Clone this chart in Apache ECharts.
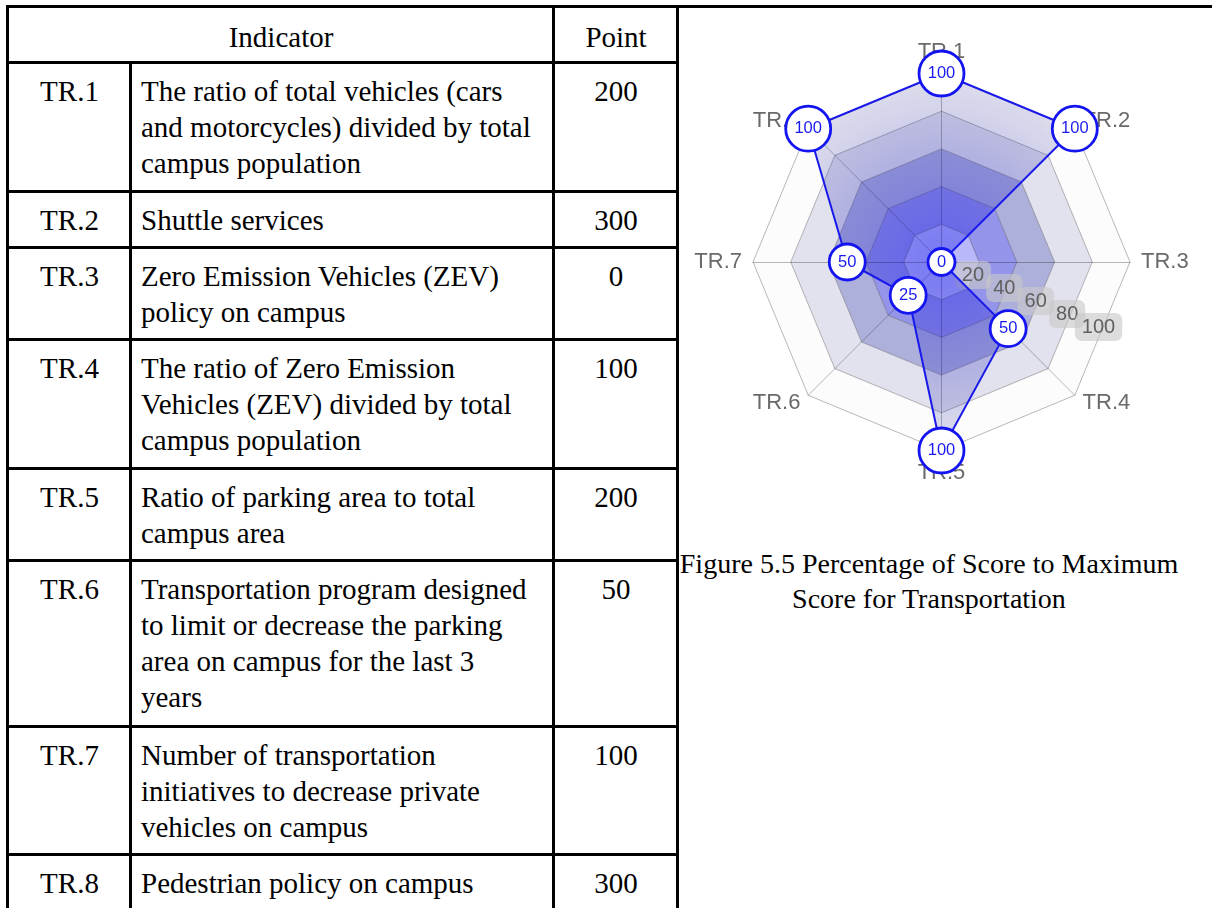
<!DOCTYPE html>
<html>
<head>
<meta charset="utf-8">
<script src="https://cdn.jsdelivr.net/npm/echarts@6/dist/echarts.min.js"></script>
<style>
html, body { margin: 0; padding: 0; background: #fff; width: 1212px; height: 908px; overflow: hidden; }
#tbl { position: absolute; left: 6px; top: 5px; border-collapse: collapse; table-layout: fixed; width: 670px;
  font-family: 'Liberation Serif', 'Times New Roman', serif; font-size: 29px; color: #000; }
#tbl td { border: 3px solid #000; vertical-align: top; padding: 9px 8px 0 9px; line-height: 36px; white-space: nowrap; overflow: hidden; }
#tbl td.c { text-align: center; }
#tbl tr.h td { vertical-align: middle; padding-top: 4px; }
#topline { position: absolute; left: 676px; top: 5px; width: 536px; height: 0; border-top: 3px solid #000; }
#chart { position: absolute; left: 676px; top: 0; width: 536px; height: 530px; }
#caption { position: absolute; left: 676px; top: 546px; width: 506px; text-align: center;
  font-family: 'Liberation Serif', 'Times New Roman', serif; font-size: 28px; line-height: 35px; color: #000; }
</style>
</head>
<body>
<table id="tbl"><colgroup><col style="width:123px"><col style="width:423px"><col style="width:124px"></colgroup><tbody id="tb"></tbody></table>
<div id="topline"></div>
<div id="chart"></div>
<div id="caption">Figure 5.5 Percentage of Score to Maximum<br>Score for Transportation</div>
<script>
// ---- data ----
const indicators = ['TR.1', 'TR.2', 'TR.3', 'TR.4', 'TR.5', 'TR.6', 'TR.7', 'TR.8'];
const descriptions = [
  ['The ratio of total vehicles (cars', 'and motorcycles) divided by total', 'campus population'],
  ['Shuttle services'],
  ['Zero Emission Vehicles (ZEV)', 'policy on campus'],
  ['The ratio of Zero Emission', 'Vehicles (ZEV) divided by total', 'campus population'],
  ['Ratio of parking area to total', 'campus area'],
  ['Transportation program designed', 'to limit or decrease the parking', 'area on campus for the last 3', 'years'],
  ['Number of transportation', 'initiatives to decrease private', 'vehicles on campus'],
  ['Pedestrian policy on campus']
];
const points = [200, 300, 0, 100, 200, 50, 100, 300];
const scores = [100, 100, 0, 50, 100, 25, 50, 100];   // percentage of score to maximum
const ringTicks = [0, 20, 40, 60, 80, 100];
const headers = ['Indicator', 'Point'];
const rowHeights = [56, 129, 56, 92, 129, 92, 166, 128, 70];

// ---- table ----
const tb = document.getElementById('tb');
let html = '<tr class="h" style="height:' + rowHeights[0] + 'px"><td class="c" colspan="2">' + headers[0] +
  '</td><td class="c">' + headers[1] + '</td></tr>';
indicators.forEach(function (ind, i) {
  html += '<tr style="height:' + rowHeights[i + 1] + 'px"><td class="c">' + ind + '</td><td>' +
    descriptions[i].join('<br>') + '</td><td class="c">' + points[i] + '</td></tr>';
});
tb.innerHTML = html;

// ---- radar chart ----
const chart = echarts.init(document.getElementById('chart'), null, { renderer: 'canvas' });
// ECharts radar places indicators counter-clockwise; reorder so they run clockwise
const order = [0].concat(indicators.map(function (_, i) { return i; }).slice(1).reverse());
const C = [265.5, 262];
const R = 188.5;
const font = 'Liberation Sans, Arial, sans-serif';
const tMin = ringTicks[0], tMax = ringTicks[ringTicks.length - 1];

chart.setOption({
  animation: false,
  radar: {
    center: C, radius: R, startAngle: 90, splitNumber: ringTicks.length - 1, shape: 'polygon',
    indicator: order.map(function (i) { return { name: indicators[i], min: tMin, max: tMax }; }),
    axisName: { color: '#6a6a6a', fontSize: 22, fontFamily: font },
    nameGap: 11,
    splitLine: { lineStyle: { color: 'rgba(0,0,0,0.28)', width: 1 } },
    axisLine: { lineStyle: { color: 'rgba(0,0,0,0.28)', width: 1 } },
    splitArea: { show: true, areaStyle: { color: ['#b8b8fa', '#9494ea', '#aeb0dc', '#e2e2ee', '#fcfcfc'] } }
  },
  polar: [
    { center: C, radius: 170 },
    { center: C, radius: R }
  ],
  angleAxis: [
    // one band spanning the circle: its centre sits at -22.5deg (between TR.3 and TR.4)
    { polarIndex: 0, type: 'category', data: ['scale'], startAngle: 157.5, clockwise: true, boundaryGap: true, show: false },
    { polarIndex: 1, type: 'category', data: indicators, startAngle: 112.5, clockwise: true, boundaryGap: true, show: false }
  ],
  radiusAxis: [
    { polarIndex: 0, type: 'value', min: tMin, max: tMax, show: false },
    { polarIndex: 1, type: 'value', min: tMin, max: tMax, show: false }
  ],
  series: [
    {
      // scale (tick) labels of the radar
      type: 'scatter', coordinateSystem: 'polar', polarIndex: 0, z: 2, silent: true,
      data: ringTicks.slice(1).map(function (t) { return [t, 'scale']; }),
      symbol: 'circle', symbolSize: 1, itemStyle: { color: 'rgba(0,0,0,0)' },
      label: {
        show: true, position: 'inside', opacity: 1, color: '#606060', fontSize: 20, fontFamily: font,
        backgroundColor: 'rgba(200,200,200,0.62)', borderRadius: 7, padding: [4, 7],
        formatter: function (p) { return String(p.value[0]); }
      }
    },
    {
      type: 'radar', z: 3, symbol: 'none',
      lineStyle: { color: '#1818f0', width: 2 },
      areaStyle: {
        color: {
          type: 'radial', x: C[0], y: C[1], r: R, global: true,
          colorStops: [
            { offset: 0, color: 'rgba(15,15,240,0.54)' },
            { offset: 0.5, color: 'rgba(30,30,200,0.38)' },
            { offset: 1, color: 'rgba(40,40,140,0.2)' }
          ]
        }
      },
      data: [{ value: order.map(function (i) { return scores[i]; }) }]
    },
    {
      type: 'scatter', coordinateSystem: 'polar', polarIndex: 1, z: 5,
      data: scores.map(function (s, i) { return [s, indicators[i]]; }),
      symbol: 'circle',
      symbolSize: function (v) { return 9 * String(v[0]).length + 18; },
      itemStyle: { color: '#ffffff', borderColor: '#1414f0', borderWidth: 2.8, opacity: 1 },
      label: {
        show: true, position: 'inside', color: '#1a1af0', fontSize: 16.5, fontFamily: font,
        formatter: function (p) { return String(p.value[0]); }
      }
    }
  ]
});
</script>
</body>
</html>
